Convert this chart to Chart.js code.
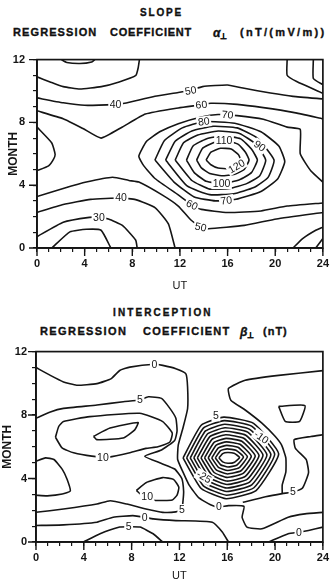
<!DOCTYPE html>
<html><head><meta charset="utf-8">
<script src="https://cdn.jsdelivr.net/npm/chart.js@4/dist/chart.umd.min.js"></script>
<style>
html,body{margin:0;padding:0;background:#fff;}
body{width:334px;height:586px;position:relative;overflow:hidden;font-family:"Liberation Sans",Arial,sans-serif;color:#111;}
.ttl{position:absolute;font-weight:bold;white-space:nowrap;-webkit-text-stroke:0.35px #111;}
.row{position:absolute;white-space:nowrap;font-size:0;font-weight:bold;-webkit-text-stroke:0.35px #111;}
.row span{display:inline-block;font-size:11px;vertical-align:top;}
.row sub{font-size:8px;vertical-align:-2px;}
canvas{position:absolute;left:0;}
</style>
</head><body>
<div class="ttl" style="left:140px;top:7px;font-size:10px;letter-spacing:1.8px;">SLOPE</div>
<div class="row" style="left:13px;top:26px;">
<span style="width:97px;letter-spacing:1.1px;">REGRESSION</span> <span style="width:103px;letter-spacing:0.8px;">COEFFICIENT</span> <span style="width:27px;font-size:12px;"><i>α</i><sub>⊥</sub></span> <span style="font-size:11px;letter-spacing:2.3px;">(nT/(mV/m))</span>
</div>
<canvas id="slope" width="334" height="250" style="top:45px;"></canvas>
<div class="ttl" style="left:113px;top:307px;font-size:10px;letter-spacing:2.1px;">INTERCEPTION</div>
<div class="row" style="left:40px;top:325px;">
<span style="width:103px;letter-spacing:1.4px;">REGRESSION</span> <span style="width:97px;letter-spacing:1.3px;">COEFFICIENT</span> <span style="width:23px;font-size:12px;"><i>β</i><sub>⊥</sub></span> <span style="letter-spacing:1px;">(nT)</span>
</div>
<canvas id="intercept" width="334" height="246" style="top:340px;"></canvas>
<script>
// ---------- axis ticks ----------
const utTicks = [0, 4, 8, 12, 16, 20, 24];
const monthTicks = [0, 4, 8, 12];

// ---------- SLOPE (alpha) contours: [UT, month] ----------
const slopeArcTop = [[2.05,12],[2.5,11.82],[3.6,11.75],[4.6,11.85],[4.85,12]];
const slopeLine40Upper = [[0,10.9],[1.1,10.58],[2.2,10.28],[3.6,10.13],[5.4,10.28],[6.9,10.58],[8.3,11.0],[8.5,11.5],[8.6,12]];
const slopeLine40to50 = [[0,9.56],[2.2,9.25],[4.0,9.09],[6.6,9.15],[7.35,9.22],[9.9,9.66],[11.86,9.9],[12.9,10.05],[13.9,10.28],[16,10.38],[17.4,10.17],[19.6,9.87],[21.5,9.66],[24,9.5]];
const slopeLine60 = [[0,8.74],[2.2,8.23],[3.86,7.61],[5.38,7.0],[7.17,7.71],[9.1,8.53],[11.86,8.92],[13.8,9.12],[14.6,9.22],[16.8,9.15],[19.0,8.94],[21.5,8.64],[24,8.23]];
const slopeBumpLeft = [[0,7.7],[1.24,6.69],[1.52,5.97],[1.38,5.64],[0.97,5.23],[0,4.92]];
const slopeOuter = [[24,4.2],[23.0,4.9],[22.1,6.0],[22.1,7.55],[21.0,7.7],[19.0,8.2],[16.8,8.43],[15.2,8.5],[13.8,8.35],[11.86,7.92],[10.3,7.4],[9.2,6.8],[8.55,5.85],[8.97,5.23],[9.93,4.41],[11.86,3.38],[13.0,2.75],[13.8,2.46],[16,2.26],[18.8,2.36],[21,2.67],[24,2.87]];
const slopeLoopA = [[9.9,5.6],[10.7,6.85],[12.2,7.65],[14.0,8.05],[16.6,7.95],[18.8,7.4],[20.3,6.5],[20.8,5.5],[20.2,4.4],[18.8,3.6],[16.7,3.1],[15.0,3.0],[13.2,3.25],[11.5,4.2],[9.9,5.6]];
const slopeLoopB = [[10.8,5.6],[11.6,6.8],[13.0,7.45],[14.8,7.75],[16.8,7.65],[18.5,7.0],[19.9,5.6],[19.4,4.5],[18.2,3.85],[16.5,3.45],[14.5,3.4],[12.6,3.95],[10.8,5.6]];
const slopeLoopC = [[11.6,5.6],[12.3,6.7],[13.5,7.2],[15.2,7.45],[17.0,7.3],[18.4,6.6],[19.2,5.6],[18.7,4.6],[17.6,4.1],[16.2,3.8],[14.5,3.75],[13.0,4.3],[11.6,5.6]];
const slopeLoopD = [[12.55,5.6],[13.1,6.5],[14.2,6.95],[15.6,7.15],[17.1,6.95],[18.0,6.3],[18.5,5.6],[18.0,4.8],[17.0,4.35],[15.6,4.1],[14.2,4.25],[13.2,4.8],[12.55,5.6]];
const slopeLoopE = [[13.4,5.6],[13.9,6.35],[14.8,6.7],[15.8,6.85],[16.9,6.6],[17.5,6.1],[17.8,5.6],[17.4,5.0],[16.6,4.7],[15.5,4.6],[14.5,4.75],[13.8,5.1],[13.4,5.6]];
const slopeLoopF = [[14.2,5.6],[14.6,6.1],[15.4,6.35],[16.3,6.3],[16.9,5.95],[17.1,5.6],[16.8,5.25],[16.1,5.05],[15.2,5.1],[14.6,5.3],[14.2,5.6]];
const slopeArch50 = [[0,3.28],[2.2,3.79],[4.14,4.2],[6.34,4.51],[7.72,4.3],[8.55,4.2],[10.5,3.38],[11.86,2.67],[12.9,1.8],[13.75,1.33],[14.4,1.23],[17.4,1.44],[20.1,1.85],[24,2.26]];
const slopeLine40Lower = [[0,2.26],[2.2,2.77],[4.5,3.1],[7.05,3.18],[8.28,3.08],[9.93,2.56],[11.03,1.54],[11.59,0]];
const slopeLine30 = [[0,0.72],[2.2,1.64],[4.4,1.95],[5.2,1.95],[6.0,1.85],[7.17,1.44],[8.28,0.51],[8.41,0]];
const slopeArcBottom = [[1.24,0],[2.76,1.03],[4.14,1.19],[5.38,1.13],[6.2,0]];
const slopeCornerTR1 = [[21,12],[21,11.0],[21.8,10.6],[24,9.85]];
const slopeCornerTR2 = [[23.2,12],[23.2,10.8],[24,10.4]];
const slopeCornerBR1 = [[21.5,0],[22.3,0.6],[23.4,1.13],[24,1.33]];
const slopeCornerBR2 = [[23.4,0],[24,0.6]];
// contour labels: [text, UT, month, rotation deg]
const slopeLabels = [['40',6.6,9.15,0],['50',12.9,10.02,-10],['60',13.8,9.12,-5],['70',16.0,8.48,5],['80',14.0,8.05,-8],['110',15.7,6.85,0],['90',18.7,6.5,35],['120',16.75,5.2,-30],['100',15.5,4.1,0],['70',15.9,3.02,-8],['60',13.0,2.75,25],['50',13.75,1.33,12],['40',7.05,3.18,0],['30',5.2,1.95,0]];

// ---------- INTERCEPTION (beta) contours ----------
const interceptLine0 = [[0,11.0],[1.2,10.5],[2.3,10.09],[3.4,9.88],[5.1,9.98],[6.3,10.3],[7.0,10.81],[7.85,11.02],[9.9,11.2],[10.6,11.13],[11.7,10.92],[12.54,10.6],[12.68,9.78],[12.68,8.4],[12.3,7.2],[11.9,6.1],[11.85,5.2],[12.3,4.4],[12.8,3.6],[13.6,2.8],[14.6,2.35],[15.3,2.2],[16.1,2.29],[17.4,2.25],[17.24,1.56],[17.65,0.94],[18.9,0.83],[21.1,1.56],[22.5,1.77],[24,1.87]];
const interceptLine5 = [[0,7.8],[1.2,8.2],[2.3,8.42],[5.1,8.63],[7.3,8.84],[8.7,8.95],[9.4,9.15],[10.5,9.05],[11.2,8.42],[11.7,7.8],[11.8,7.0],[11.6,6.4],[10.5,5.8],[9.1,5.41],[10.5,4.95],[11.6,4.6],[12.2,4.0],[12.35,3.2],[12.3,2.6],[12.2,2.05],[11.7,1.9],[10.6,1.87],[9.2,2.08],[7.6,2.39],[6.2,2.6],[5.1,2.39],[2.3,2.08],[0,1.87]];
const interceptLoop10 = [[1.63,6.6],[1.9,7.28],[2.3,7.59],[4.5,7.9],[8.67,8.11],[10.6,7.59],[11.4,6.86],[11.2,6.3],[10.2,6.0],[9.2,5.9],[7.85,5.62],[6.1,5.35],[4.67,5.41],[3.15,5.62],[2.18,5.93],[1.63,6.6]];
const interceptInner = [[4.81,6.66],[6.19,7.18],[8.54,7.53],[8.26,7.07],[7.29,6.55],[5.08,6.45],[4.81,6.66]];
const interceptBumpLeft = [[0,5.1],[0.8,5.3],[1.5,5.2],[2.2,4.58],[2.6,3.95],[2.87,3.22],[2.2,3.02],[0.94,2.91],[0,2.95]];
const interceptLoop10Lower = [[8.4,3.25],[9.2,3.74],[10.6,4.06],[11.5,3.95],[11.95,3.45],[11.8,2.95],[11.4,2.65],[10.0,2.62],[9.0,2.85],[8.4,3.25]];
const interceptLine0Lower = [[0,1.04],[2.3,1.08],[5.1,1.25],[6.46,1.56],[8.1,1.66],[9.1,1.56],[9.8,1.46],[11.7,1.35],[14.75,1.25],[15.6,0.62],[16.1,0]];
const interceptLine5Bottom = [[3.98,0],[5.36,0.52],[7.0,0.94],[7.75,0.96],[8.7,0.94],[9.8,0.52],[10.6,0]];
const interceptLine0BR = [[19.45,0],[21.1,0.52],[22.0,0.62],[22.8,0.73],[24,0.94]];
const interceptTrapezoid = [[20.3,8.55],[22.5,8.6],[22.05,7.6],[20.85,7.6],[20.3,8.55]];
const interceptWedge = [[24,10.8],[20.3,10.5],[17.5,10.19],[16.1,9.67],[16.3,8.94],[17.5,8.32],[18.9,7.49],[20.0,6.66],[20.55,6.1],[20.9,5.3],[20.9,4.4],[20.6,3.6],[20.6,3.05]];
const interceptLine5Right = [[17.3,2.5],[19.2,2.85],[20.6,3.05],[21.5,3.15],[22.3,3.4],[22.8,4.37],[22.6,5.2],[21.7,5.9],[21.6,6.45],[23,6.65],[24,6.76]];
const interceptRing1 = [[15.30,5.30],[15.62,5.57],[16.02,5.64],[16.57,5.59],[17.03,5.33],[16.61,5.03],[16.06,4.96],[15.62,5.05],[15.30,5.30]];
const interceptRing2 = [[15.00,5.30],[15.44,5.76],[15.99,5.87],[16.73,5.78],[17.35,5.36],[16.79,4.84],[16.05,4.73],[15.44,4.87],[15.00,5.30]];
const interceptRing3 = [[14.70,5.30],[15.26,5.93],[15.96,6.09],[16.89,5.97],[17.68,5.38],[16.97,4.67],[16.03,4.51],[15.26,4.71],[14.70,5.30]];
const interceptRing4 = [[14.40,5.30],[15.08,6.11],[15.93,6.31],[17.06,6.16],[18.01,5.40],[17.15,4.49],[16.02,4.29],[15.08,4.54],[14.40,5.30]];
const interceptRing5 = [[14.10,5.30],[14.90,6.28],[15.90,6.53],[17.22,6.35],[18.34,5.42],[17.33,4.32],[16.00,4.07],[14.90,4.38],[14.10,5.30]];
const interceptRing6 = [[13.80,5.30],[14.72,6.47],[15.87,6.76],[17.38,6.54],[18.66,5.45],[17.51,4.13],[15.99,3.84],[14.72,4.21],[13.80,5.30]];
const interceptRing7 = [[13.50,5.30],[14.54,6.64],[15.84,6.98],[17.55,6.73],[18.99,5.47],[17.69,3.96],[15.97,3.62],[14.54,4.04],[13.50,5.30]];
const interceptRing8 = [[13.20,5.30],[14.36,6.82],[15.81,7.20],[17.71,6.92],[19.32,5.49],[17.87,3.78],[15.96,3.40],[14.36,3.88],[13.20,5.30]];
const interceptRing9 = [[12.90,5.30],[14.18,7.00],[15.78,7.42],[17.88,7.10],[19.65,5.51],[18.05,3.60],[15.94,3.18],[14.18,3.71],[12.90,5.30]];
const interceptRing10 = [[12.60,5.30],[14.00,7.18],[15.75,7.65],[18.04,7.30],[19.97,5.54],[18.23,3.42],[15.93,2.95],[14.00,3.54],[12.60,5.30]];
const interceptRing11 = [[12.30,5.30],[13.82,7.36],[15.72,7.87],[18.20,7.48],[20.30,5.56],[18.41,3.24],[15.91,2.73],[13.82,3.37],[12.30,5.30]];
const interceptLabels = [['0',9.9,11.2,0],['5',8.7,8.95,0],['10',5.6,5.3,0],['10',9.3,2.85,0],['5',12.2,2.05,0],['0',9.1,1.56,0],['5',7.75,0.95,0],['5',15.05,7.95,0],['-10',18.85,6.6,35],['-25',14.05,4.1,30],['0',15.3,2.2,0],['5',21.5,3.15,0],['0',22.0,0.62,0]];

const slopeContours = [slopeArcTop, slopeLine40Upper, slopeLine40to50, slopeLine60, slopeBumpLeft, slopeOuter,
  slopeLoopA, slopeLoopB, slopeLoopC, slopeLoopD, slopeLoopE, slopeLoopF, slopeArch50, slopeLine40Lower,
  slopeLine30, slopeArcBottom, slopeCornerTR1, slopeCornerTR2, slopeCornerBR1, slopeCornerBR2];
const interceptContours = [interceptLine0, interceptLine5, interceptLoop10, interceptInner, interceptBumpLeft,
  interceptLoop10Lower, interceptLine0Lower, interceptLine5Bottom, interceptLine0BR, interceptTrapezoid,
  interceptWedge, interceptLine5Right, interceptRing1, interceptRing2, interceptRing3, interceptRing4,
  interceptRing5, interceptRing6, interceptRing7, interceptRing8, interceptRing9, interceptRing10, interceptRing11];

const INK = '#151515';

const contourLabelPlugin = {
  id: 'contourLabels',
  afterDatasetsDraw(chart, args, opts) {
    const {ctx, scales: {x, y}} = chart;
    (opts.labels || []).forEach(([t, ux, m, rot]) => {
      const px = x.getPixelForValue(ux), py = y.getPixelForValue(m);
      ctx.save();
      ctx.translate(px, py);
      ctx.rotate((rot || 0) * Math.PI / 180);
      ctx.font = opts.font;
      const w = ctx.measureText(t).width;
      ctx.fillStyle = '#fff';
      ctx.fillRect(-w / 2 - 1.5, -5.5, w + 3, 11);
      ctx.fillStyle = INK;
      ctx.textAlign = 'center';
      ctx.textBaseline = 'middle';
      ctx.fillText(t, 0, 0.5);
      ctx.restore();
    });
  }
};

const framePlugin = {
  id: 'frameAndMajors',
  afterDraw(chart) {
    const {ctx, chartArea: a, scales: {x, y}} = chart;
    ctx.save();
    ctx.strokeStyle = INK;
    ctx.lineWidth = 1.7;
    ctx.strokeRect(a.left, a.top, a.right - a.left, a.bottom - a.top);
    ctx.lineWidth = 1.4;
    ctx.beginPath();
    utTicks.forEach(v => { const px = x.getPixelForValue(v); ctx.moveTo(px, a.bottom); ctx.lineTo(px, a.bottom + 8); });
    monthTicks.forEach(v => { const py = y.getPixelForValue(v); ctx.moveTo(a.left - 8, py); ctx.lineTo(a.left, py); });
    ctx.stroke();
    ctx.restore();
  }
};

function buildChart(id, contours, labels, cfg) {
  const datasets = contours.map(c => ({
    data: c.map(([u, m]) => ({x: u, y: m})),
    showLine: true, borderColor: INK, borderWidth: 1.6, pointRadius: 0, tension: 0.15, fill: false
  }));
  const tickFont = {family: 'Liberation Sans', weight: 'bold', size: 11};
  return new Chart(document.getElementById(id), {
    type: 'scatter',
    data: {datasets},
    plugins: [contourLabelPlugin, framePlugin],
    options: {
      responsive: false, animation: false, devicePixelRatio: 1,
      layout: {padding: {top: cfg.padTop, right: 8, left: 0, bottom: 0}},
      plugins: {
        legend: {display: false}, tooltip: {enabled: false},
        contourLabels: {labels, font: '10.5px "Liberation Sans", Arial, sans-serif'}
      },
      scales: {
        x: {
          type: 'linear', min: 0, max: 24,
          ticks: {stepSize: 1, autoSkip: false, maxRotation: 0, padding: 5, color: INK, font: tickFont,
            callback: v => utTicks.includes(v) ? String(v) : ''},
          grid: {drawOnChartArea: false, tickLength: 4, color: INK, lineWidth: 1.2},
          border: {color: INK, width: 1.7},
          title: {display: true, text: 'UT', color: INK, font: {family: 'Liberation Sans', size: 11}, padding: {top: 0, bottom: cfg.utPad}},
          afterFit: s => { s.height = cfg.xH; }
        },
        y: {
          type: 'linear', min: 0, max: 12,
          ticks: {stepSize: 1, autoSkip: false, padding: cfg.yTickPad, color: INK, font: tickFont,
            callback: v => monthTicks.includes(v) ? String(v) : ''},
          grid: {drawOnChartArea: false, tickLength: 4, color: INK, lineWidth: 1.2},
          border: {color: INK, width: 1.7},
          title: {display: true, text: 'MONTH', color: INK, font: {family: 'Liberation Sans', weight: 'bold', size: 12}, padding: {top: cfg.monthPad, bottom: 0}},
          afterFit: s => { s.width = cfg.yW; }
        }
      }
    }
  });
}

buildChart('slope', slopeContours, slopeLabels, {padTop: 8, xH: 47, yW: 37, utPad: 2.4, monthPad: 6, yTickPad: 8});
buildChart('intercept', interceptContours, interceptLabels, {padTop: 9, xH: 44, yW: 36, utPad: 3.4, monthPad: 0, yTickPad: 5});
</script>
</body></html>
